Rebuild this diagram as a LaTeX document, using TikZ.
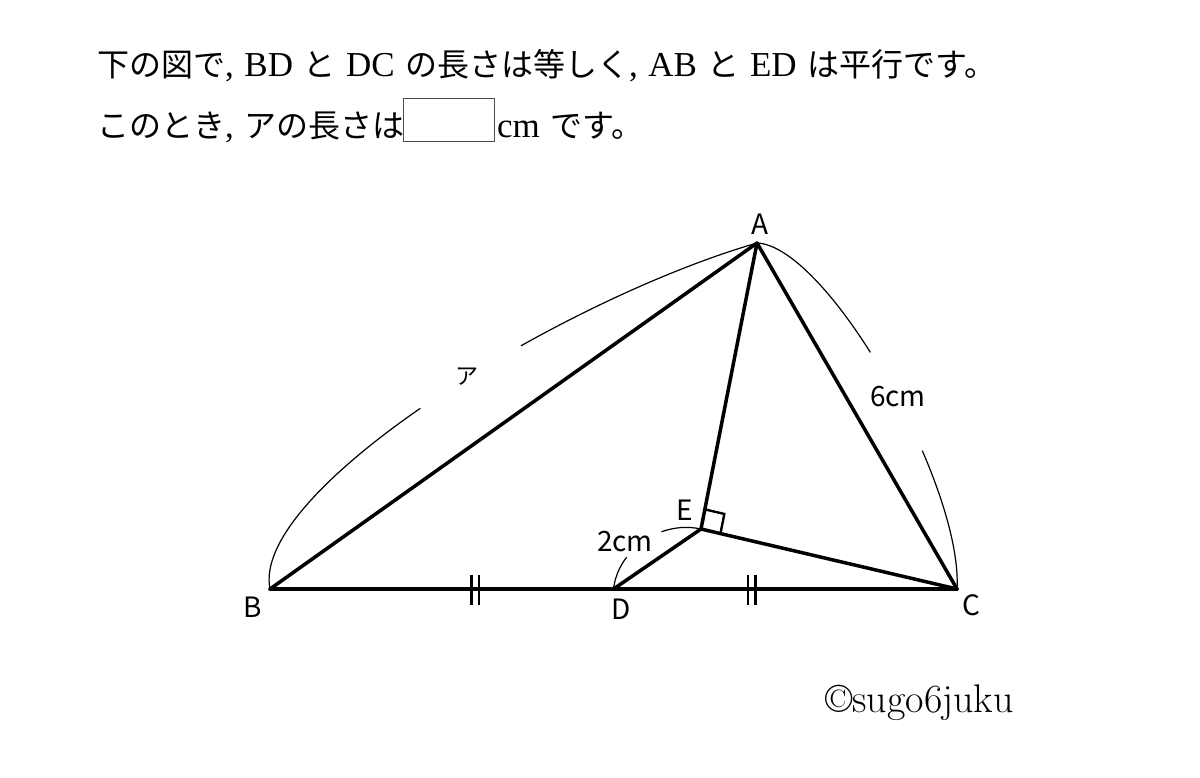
\documentclass[tikz,border=0pt]{standalone}
\usepackage{fontspec}
\usetikzlibrary{calc}
\newfontfamily\jpf{Noto Sans CJK JP}
\newfontfamily\latf{Liberation Serif}
\tikzset{
  thickline/.style={line width=3.5pt, line cap=round, line join=round},
  arcline/.style={line width=1.2pt},
  tickline/.style={line width=2.6pt},
  ptlabel/.style={font=\jpf\fontsize{28}{28}\selectfont, inner sep=0pt},
  qtext/.style={font=\fontsize{32}{32}\selectfont, inner sep=0pt, anchor=base west},
}
\newcommand{\Lt}[1]{{\latf\fontsize{35}{35}\selectfont #1}}
\newcommand{\Sp}{\hspace{10.5pt}}
\begin{document}
\begin{tikzpicture}[x=1pt,y=-1pt]
\fill[white] (0,0) rectangle (1200,777);
\useasboundingbox (0,0) rectangle (1200,777);
% question text
\node[qtext] (q1) at (97,76) {{\jpf 下の図で}\Lt{,\Sp BD\Sp}{\jpf と}\Lt{\Sp DC\Sp}{\jpf の長さは等しく}\Lt{,\Sp AB\Sp}{\jpf と}\Lt{\Sp ED\Sp}{\jpf は平行です。}};
\node[qtext] (q2) at (97,137) {{\jpf このとき}\Lt{,\Sp}{\jpf アの長さは}};
\node[draw=black!70, line width=1.2pt, minimum width=91pt, minimum height=43pt, inner sep=0pt] (ans) at (449,120) {};
\node[qtext] (q3) at (497,137) {\Lt{cm\Sp}{\jpf です。}};
% points
\coordinate (A) at (757,243);
\coordinate (B) at (270,589);
\coordinate (C) at (957,589);
\coordinate (D) at (613.5,589);
\coordinate (E) at (701,529);
% control points of the measure arcs
\coordinate (ab1) at (250,490);
\coordinate (ab2) at (560,300);
\coordinate (ac1) at (828,246);
\coordinate (ac2) at (963,485);
\coordinate (de1) at (618,550);
\coordinate (de2) at (660,520);
% measure arcs with gaps
\begin{scope}[arcline]
\pgfpathcurvebetweentime{0}{0.48}{\pgfpointanchor{B}{center}}{\pgfpointanchor{ab1}{center}}{\pgfpointanchor{ab2}{center}}{\pgfpointanchor{A}{center}}
\pgfpathcurvebetweentime{0.64}{1}{\pgfpointanchor{B}{center}}{\pgfpointanchor{ab1}{center}}{\pgfpointanchor{ab2}{center}}{\pgfpointanchor{A}{center}}
\pgfpathcurvebetweentime{0}{0.44}{\pgfpointanchor{A}{center}}{\pgfpointanchor{ac1}{center}}{\pgfpointanchor{ac2}{center}}{\pgfpointanchor{C}{center}}
\pgfpathcurvebetweentime{0.66}{1}{\pgfpointanchor{A}{center}}{\pgfpointanchor{ac1}{center}}{\pgfpointanchor{ac2}{center}}{\pgfpointanchor{C}{center}}
\pgfpathcurvebetweentime{0}{0.3}{\pgfpointanchor{D}{center}}{\pgfpointanchor{de1}{center}}{\pgfpointanchor{de2}{center}}{\pgfpointanchor{E}{center}}
\pgfpathcurvebetweentime{0.67}{1}{\pgfpointanchor{D}{center}}{\pgfpointanchor{de1}{center}}{\pgfpointanchor{de2}{center}}{\pgfpointanchor{E}{center}}
\pgfusepath{stroke}
\end{scope}
% triangle and segments
\draw[thickline] (B) -- (C);
\draw[thickline] (A) -- (B);
\draw[thickline] (A) -- (C);
\draw[thickline] (A) -- (E);
\draw[thickline] (E) -- (C);
\draw[thickline] (D) -- (E);
% right angle mark
\coordinate (ea) at ($(E)!20pt!(A)$);
\coordinate (ec) at ($(E)!20pt!(C)$);
\coordinate (eac) at ($(ea)+(ec)-(E)$);
\draw[line width=2.4pt] (ea) -- (eac) -- (ec);
% equal ticks
\coordinate (t1a) at (471.5,575); \coordinate (t1b) at (471.5,605);
\coordinate (t2a) at (479,575); \coordinate (t2b) at (479,605);
\coordinate (t3a) at (748,575); \coordinate (t3b) at (748,605);
\coordinate (t4a) at (755.5,575); \coordinate (t4b) at (755.5,605);
\draw[tickline] (t1a) -- (t1b);
\draw[tickline] (t2a) -- (t2b);
\draw[tickline] (t3a) -- (t3b);
\draw[tickline] (t4a) -- (t4b);
% labels
\node[ptlabel] (lA) at (760,224) {A};
\node[ptlabel] (lB) at (253,607) {B};
\node[ptlabel] (lC) at (971,605) {C};
\node[ptlabel] (lD) at (621,609) {D};
\node[ptlabel] (lE) at (685,510) {E};
\node[ptlabel] (l2) at (625,542) {2cm};
\node[ptlabel] (l6) at (898,397) {6cm};
\node[ptlabel, font=\jpf\fontsize{23}{23}\selectfont] (la) at (467,377) {ア};
\node[inner sep=0pt, anchor=base west, font=\fontsize{40}{40}\selectfont] (copy) at (825,712) {©sugo6juku};
\end{tikzpicture}
\end{document}
